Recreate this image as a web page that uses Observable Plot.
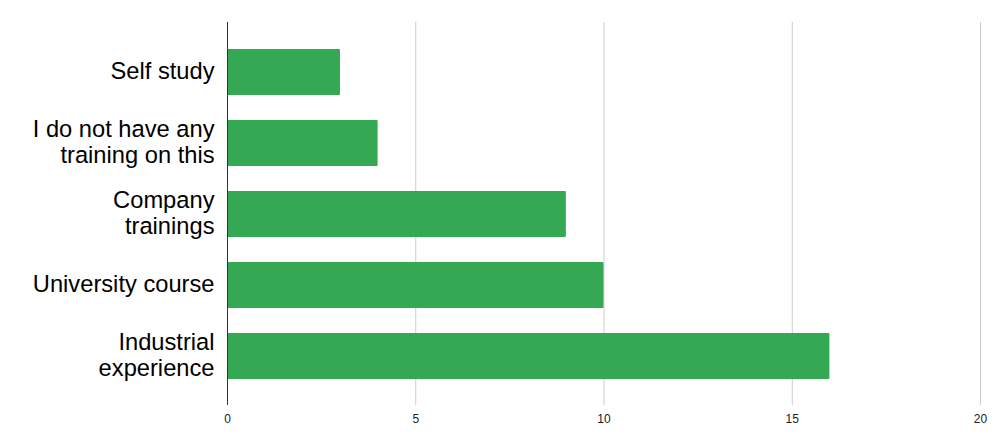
<!DOCTYPE html>
<html>
<head>
<meta charset="utf-8">
<script src="https://cdn.jsdelivr.net/npm/d3@7"></script>
<script src="https://cdn.jsdelivr.net/npm/@observablehq/plot@0.6"></script>
<style>
  html, body { margin: 0; padding: 0; background: #fff; }
  #chart { width: 1004px; height: 448px; }
</style>
</head>
<body>
<div id="chart"></div>
<script>
const categories = ["Self study", "I do not have any training on this", "Company trainings", "University course", "Industrial experience"];
const tickLabels = ["Self study", "I do not have any\ntraining on this", "Company\ntrainings", "University course", "Industrial\nexperience"];
const values = [3, 4, 9, 10, 16];
const xTicks = [0, 5, 10, 15, 20];

const data = categories.map((c, i) => ({category: c, value: values[i]}));
const labelOf = new Map(categories.map((c, i) => [c, tickLabels[i]]));

const chart = Plot.plot({
  width: 1004,
  height: 448,
  marginTop: 22,
  marginBottom: 43,
  marginLeft: 227,
  marginRight: 24,
  style: {fontFamily: "'Liberation Sans', Arial, sans-serif", background: "#fff"},
  x: {domain: [0, 20], label: null},
  y: {domain: categories, padding: 0.357, label: null},
  marks: [
    Plot.gridX(xTicks, {stroke: "#cccccc", strokeOpacity: 1, strokeWidth: 1}),
    Plot.barX(data, {x: "value", y: "category", fill: "#34a853", rx: 1}),
    Plot.ruleX([0], {stroke: "#333333", strokeWidth: 1}),
    Plot.axisX(xTicks, {tickSize: 0, tickPadding: 9, fontSize: 12, fill: "#222", label: null, tickFormat: d => String(d)}),
    Plot.axisY({tickSize: 0, tickPadding: 13, fontSize: 23.7, fill: "#000", lineHeight: 1.1, dy: -1.5, label: null, tickFormat: d => labelOf.get(d)})
  ]
});
document.getElementById("chart").appendChild(chart);
</script>
</body>
</html>
